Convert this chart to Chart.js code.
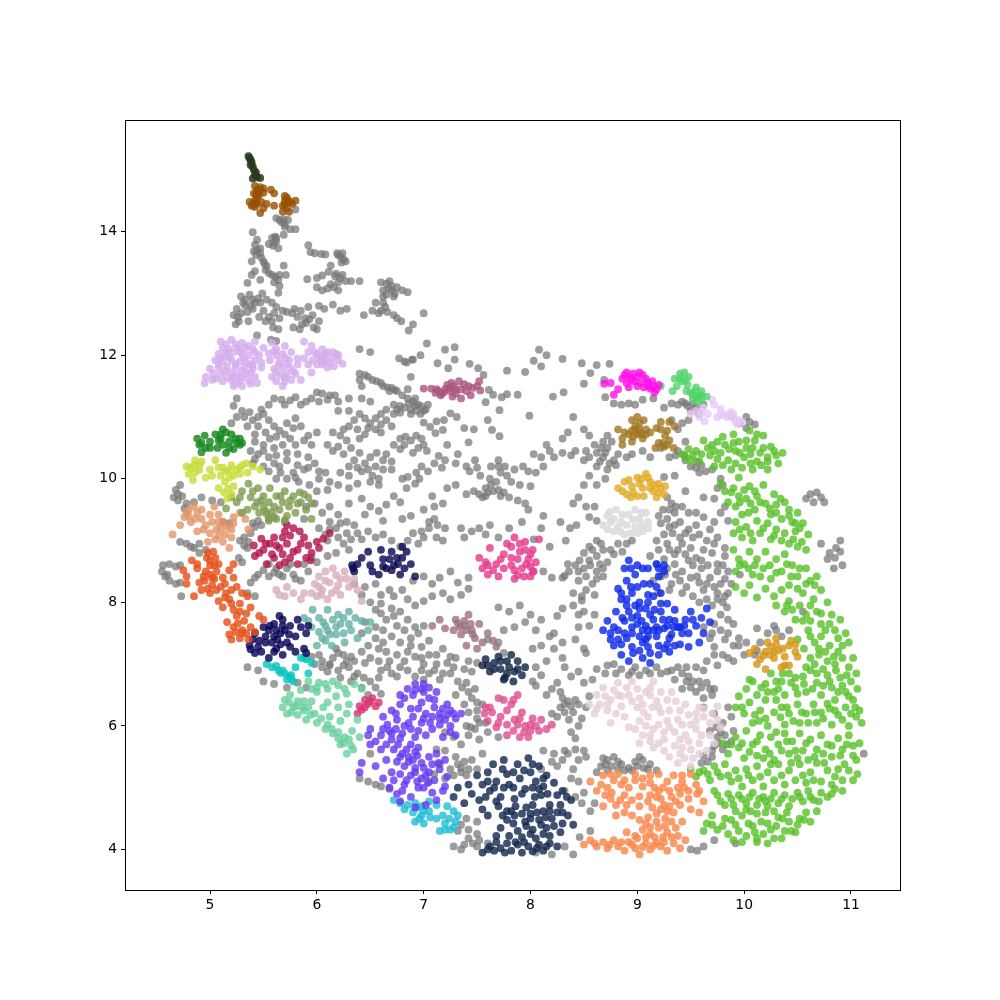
<!DOCTYPE html>
<html>
<head>
<meta charset="utf-8">
<title>Clusters</title>
<script src="https://cdn.jsdelivr.net/npm/chart.js@4"></script>
<style>
  html, body { margin: 0; padding: 0; background: #fff; }
  #wrap { width: 1000px; height: 1000px; }
</style>
</head>
<body>
<div id="wrap"><canvas id="scatter" width="1000" height="1000"></canvas></div>
<script>
// values, flat x,y lists per cluster
const xTicks = [5, 6, 7, 8, 9, 10, 11];
const yTicks = [4, 6, 8, 10, 12, 14];

const unassigned = [
// spire
5.80,14.36,5.65,14.19,5.69,14.2,5.73,14.19,5.67,14.15,5.70,14.08,5.80,14.04,5.75,14.04,5.40,13.99,5.69,13.95,5.61,13.92,5.58,13.9,5.44,13.87,5.62,13.84,5.59,13.77,5.64,13.73,5.42,13.79,5.47,13.73,5.41,13.68,5.44,13.7,5.47,13.65,5.39,13.52,5.50,13.52,5.53,13.44,5.51,13.48,5.69,13.45,5.42,13.36,5.39,13.3,5.55,13.33,5.61,13.27,5.58,13.3,5.71,13.3,5.35,13.17,5.47,13.22,5.64,13.22,5.65,13.12,5.64,13.01,5.6,13.18,
5.29,12.95,5.33,12.9,5.37,12.98,5.49,13.0,5.47,12.85,5.42,12.85,5.38,12.8,5.33,12.8,5.25,12.75,5.22,12.65,5.29,12.68,5.35,12.7,5.27,12.55,5.36,12.55,5.53,12.9,5.58,12.85,5.62,12.78,5.6,12.68,5.55,12.62,5.65,12.6,5.59,12.45,5.64,12.42,5.44,12.32,5.57,12.25,5.62,12.23,5.72,12.7,5.77,12.68,5.79,12.75,5.85,12.72,5.92,12.78,5.89,12.6,5.93,12.58,5.9,12.52,5.97,12.45,6.0,12.42,5.78,12.45,5.84,12.42,6.07,12.75,6.02,12.8,6.15,12.82,6.28,12.75,6.22,12.72,6.44,12.65,
5.4,12.9,5.45,12.92,5.31,12.85,5.26,12.62,5.24,12.5,5.4,12.75,5.5,12.72,5.46,12.62,5.52,12.55,5.58,12.55,5.68,12.72,5.82,12.62,5.96,12.65,6.02,12.55,5.86,12.5,5.52,13.38,5.48,13.58,5.43,13.62,5.62,13.9,5.55,13.8,5.6,13.82,5.65,13.3,5.7,14.12,5.62,14.22,
5.92,13.78,5.94,13.67,5.98,13.65,6.04,13.64,6.08,13.63,6.19,13.65,6.22,13.6,6.25,13.55,6.27,13.52,6.13,13.45,6.11,13.35,6.05,13.29,6.0,13.25,5.91,13.23,6.0,13.1,6.05,13.05,6.1,13.08,6.13,13.15,6.18,13.32,6.22,13.25,6.2,13.18,6.27,13.2,6.2,13.05,6.32,13.2,6.4,13.2,6.6,13.18,6.65,13.16,6.67,13.08,6.7,13.05,6.75,13.1,6.8,13.05,6.85,13.02,6.72,12.95,6.65,12.98,6.62,12.95,6.52,12.72,6.55,12.85,6.66,12.7,6.72,12.65,6.75,12.6,6.62,12.85,6.79,12.55,6.9,12.5,7.0,12.68,6.86,12.4,
6.2,13.62,6.24,13.65,6.23,13.5,6.17,13.28,6.24,13.3,6.16,13.1,6.68,13.2,6.7,13.12,6.62,13.05,6.73,13.0,6.6,12.72,6.64,12.78,6.58,12.68,
// under the lilac band
6.40,12.1,6.5,12.05,6.77,11.95,6.82,11.9,6.84,11.88,6.9,11.93,6.4,11.7,6.48,11.65,6.52,11.6,6.6,11.55,6.66,11.48,6.7,11.47,6.73,11.44,6.4,11.6,6.42,11.5,6.62,11.5,6.75,11.42,6.5,11.25,6.3,11.3,6.42,11.3,6.0,11.4,6.05,11.38,6.12,11.35,5.95,11.3,6.02,11.25,6.1,11.28,6.17,11.35,6.2,11.25,5.6,11.3,5.67,11.28,5.75,11.27,5.8,11.32,5.9,11.25,6.88,11.65,6.72,11.2,6.78,11.18,
6.45,11.68,6.56,11.58,6.68,11.42,6.92,11.3,6.86,11.22,6.92,11.18,6.88,11.05,6.97,11.05,7.04,11.2,7.0,11.1,6.75,11.12,5.85,11.2,5.7,11.2,5.55,11.2,5.48,11.12,
7.03,12.19,6.97,12.0,6.89,11.93,7.2,12.09,7.29,12.13,7.13,11.87,7.43,11.86,7.23,11.79,7.29,11.93,7.51,11.79,7.56,11.68,7.78,11.75,7.95,11.73,8.08,12.09,8.15,12.0,8.3,11.94,8.03,11.91,8.1,11.82,8.48,11.87,8.62,11.84,8.56,11.71,8.74,11.86,8.5,11.54,8.69,11.6,8.31,11.4,8.21,11.33,7.88,11.36,7.78,11.37,7.73,11.32,7.65,11.36,7.61,11.44,7.58,11.24,7.71,11.11,7.99,11.02,7.6,10.95,7.64,10.79,7.71,10.69,7.47,10.8,7.38,10.82,7.42,10.59,7.25,11.06,7.31,11.0,7.19,10.95,7.12,10.93,7.0,10.91,7.06,10.84,7.18,10.79,7.11,10.74,
6.85,11.45,6.8,11.35,6.85,11.3,6.9,11.25,6.95,11.2,6.98,11.17,6.82,11.15,6.88,11.12,6.93,11.1,7.02,11.12,6.78,11.07,6.72,11.05,6.65,11.12,6.6,11.05,6.55,10.98,6.65,10.95,6.6,10.88,6.7,10.85,6.78,10.65,6.83,10.68,6.88,10.62,6.93,10.7,6.98,10.65,7.0,10.55,6.95,10.5,6.9,10.42,6.82,10.55,6.78,10.48,7.03,10.45,7.14,10.37,7.1,10.25,7.17,10.18,7.04,10.12,6.98,10.2,6.93,10.1,6.85,10.03,6.96,10.0,6.92,9.92,6.8,10.0,6.84,9.85,7.08,9.72,
6.2,11.1,6.3,11.1,6.4,11.05,6.5,10.9,6.55,10.8,6.6,10.75,6.45,10.72,6.4,10.65,6.3,10.85,6.25,10.8,6.15,10.75,6.22,10.7,6.1,10.55,6.15,10.45,6.2,10.52,6.32,10.5,6.4,10.42,6.35,10.3,6.45,10.25,6.5,10.35,6.55,10.2,6.42,10.12,6.52,10.05,6.58,10.0,6.62,10.3,6.7,10.15,6.65,10.4,6.72,10.55,
6.35,10.95,6.45,10.98,6.38,10.8,6.48,10.82,6.28,10.62,6.25,10.4,6.3,10.2,6.38,10.18,6.48,10.15,6.56,10.42,6.62,10.15,6.7,10.28,6.58,9.9,6.5,9.95,
5.25,11.3,5.22,11.18,5.3,11.1,5.37,11.08,5.32,11.0,5.25,11.0,5.2,10.9,5.4,10.95,5.45,11.0,5.5,11.05,5.55,10.95,5.45,10.85,5.52,10.75,5.6,10.85,5.65,10.78,5.72,10.9,5.8,10.98,5.85,10.85,5.92,10.7,6.0,10.75,5.75,10.65,5.8,10.55,5.68,10.55,5.6,10.5,5.5,10.55,5.42,10.6,5.38,10.45,5.45,10.4,5.55,10.35,5.6,10.25,5.72,10.3,5.82,10.4,5.92,10.35,5.98,10.25,5.88,10.15,5.78,10.1,5.66,10.1,5.72,10.0,5.5,10.2,5.4,10.25,5.83,9.95,5.93,9.9,6.02,10.0,6.12,9.95,6.22,10.1,6.3,10.05,6.2,9.9,6.1,9.82,6.0,9.8,6.3,9.85,6.38,9.92,
5.35,10.85,5.42,10.72,5.56,10.65,5.62,10.68,5.7,10.72,5.78,10.82,5.88,10.62,5.95,10.55,5.72,10.42,5.62,10.38,5.5,10.45,5.42,10.32,5.65,10.2,5.82,10.22,5.92,10.18,6.02,10.12,5.55,10.12,5.62,10.0,5.8,10.02,6.08,10.1,
7.22,10.55,7.32,10.4,7.2,10.3,7.3,10.25,7.4,10.2,7.48,10.3,7.43,10.12,7.53,10.05,7.63,10.2,7.7,10.3,7.72,10.1,7.62,10.0,7.68,9.95,7.78,10.05,7.85,10.15,7.93,10.2,7.98,10.12,8.1,10.35,8.03,10.4,8.15,10.55,8.3,10.65,8.12,10.2,8.05,10.1,8.0,9.88,7.9,9.9,7.82,9.95,7.58,9.85,7.65,9.8,7.52,9.75,7.47,9.8,7.4,9.75,7.55,9.7,7.72,9.72,7.8,9.7,7.88,9.65,7.95,9.6,
7.6,9.78,7.63,9.9,7.7,9.82,7.75,9.78,7.76,10.2,7.7,10.2,7.5,10.18,7.58,9.72,
7.3,9.9,7.22,9.85,7.18,9.6,7.1,9.55,7.0,9.5,6.88,9.4,6.8,9.35,7.05,9.3,7.1,9.35,7.13,9.25,7.2,9.2,7.05,9.2,6.98,9.15,6.9,9.12,6.85,9.0,6.95,8.95,7.0,9.05,7.12,9.05,7.18,9.0,7.35,9.2,7.38,9.05,7.45,9.15,7.52,9.2,7.58,9.1,7.62,9.25,7.7,9.05,7.8,9.2,7.92,9.3,7.98,9.5,8.12,9.4,8.1,9.2,8.03,9.02,8.18,8.9,
8.4,11.0,8.35,10.75,8.5,10.8,8.55,10.7,8.6,10.55,8.52,10.45,8.42,10.45,8.38,10.38,8.3,10.42,8.22,10.35,8.18,10.45,8.5,10.3,8.55,10.35,8.62,10.42,8.68,10.35,8.72,10.5,8.76,10.6,8.78,10.3,8.82,10.4,8.62,10.2,8.72,10.15,8.8,10.22,8.7,10.0,8.62,9.9,8.55,10.05,8.5,9.9,8.45,9.7,8.4,9.6,8.52,9.55,8.6,9.55,8.62,9.32,8.55,9.38,8.43,9.25,8.37,9.2,8.28,9.3,8.33,9.0,
8.7,11.32,8.78,11.22,8.85,11.2,8.92,11.22,8.98,11.2,9.05,11.28,9.15,11.3,9.25,11.15,9.32,11.22,9.38,11.2,9.45,11.22,9.55,11.15,9.62,11.2,9.5,11.1,9.58,11.05,9.45,10.6,9.38,10.8,9.42,10.9,9.32,10.95,9.48,10.95,9.02,10.75,8.68,10.6,8.72,10.7,8.9,10.35,8.95,10.4,9.05,10.45,9.12,10.35,9.22,10.5,9.3,10.35,9.38,10.45,9.45,10.3,9.5,10.2,9.6,10.22,9.7,10.15,9.8,9.9,9.75,9.85,9.78,10.0,9.55,10.18,9.58,10.1,9.45,9.8,9.35,10.05,9.25,10.03,
8.66,10.5,8.7,10.42,8.74,10.25,8.65,10.28,9.42,11.25,9.47,11.18,9.52,11.22,9.55,11.1,9.36,10.38,9.44,10.38,9.56,10.28,9.64,10.12,
9.28,9.7,9.32,9.6,9.42,9.55,9.35,9.45,9.28,9.35,9.22,9.28,9.3,9.22,9.4,9.3,9.48,9.45,9.55,9.45,9.62,9.38,9.55,9.25,9.48,9.18,9.4,9.05,9.33,9.12,9.25,9.1,9.18,9.0,9.28,8.95,9.42,8.95,9.5,8.88,9.58,9.1,9.68,9.18,9.72,9.3,9.78,9.45,9.82,9.55,9.72,9.68,9.62,9.7,9.85,9.32,9.75,9.05,9.65,9.0,9.62,8.85,9.7,8.8,9.82,8.75,9.75,8.62,9.6,8.55,9.52,8.6,9.42,8.5,9.35,8.62,9.25,8.7,9.35,8.78,9.2,8.85,9.12,8.75,
9.24,9.5,9.3,9.5,9.36,9.55,9.2,9.4,9.35,9.25,9.45,9.12,9.52,9.05,9.38,8.85,9.45,8.78,9.55,8.72,9.48,8.68,9.6,8.68,9.66,8.6,9.8,8.6,9.82,8.88,9.72,8.95,9.3,8.85,9.18,8.62,9.28,8.55,
9.15,8.35,9.22,8.42,9.32,8.3,9.4,8.35,9.5,8.4,9.58,8.32,9.68,8.4,9.75,8.5,9.85,8.5,9.78,8.3,9.85,8.15,9.75,8.15,9.62,8.2,9.52,8.1,9.42,8.15,9.3,8.2,9.2,8.15,9.8,8.0,9.7,7.95,9.78,7.8,9.85,7.72,9.9,7.65,9.72,7.65,9.62,7.6,9.7,7.5,9.82,7.4,9.9,7.3,9.8,7.15,9.95,7.3,10.02,7.35,10.0,7.15,10.1,7.15,10.12,7.22,9.85,7.1,9.72,7.28,9.75,6.98,9.62,6.9,9.55,6.95,9.42,6.85,9.32,6.9,
9.26,8.45,9.36,8.45,9.46,8.25,9.56,8.42,9.65,8.3,9.72,8.25,9.82,8.38,9.88,8.3,9.82,8.1,9.75,8.05,9.84,7.92,9.65,8.05,9.58,8.0,9.78,7.55,9.85,7.5,9.95,7.42,9.68,7.42,9.72,7.15,9.9,7.05,9.65,7.05,9.46,6.95,9.38,6.95,
8.62,9.0,8.55,8.9,8.5,8.8,8.42,8.6,8.36,8.5,8.3,8.4,8.5,8.55,8.55,8.68,8.62,8.75,8.68,8.85,8.75,8.85,8.82,8.95,8.9,8.95,8.95,9.0,8.72,8.65,8.62,8.5,8.52,8.42,8.58,8.3,8.45,8.35,8.4,8.15,8.48,8.1,8.52,8.2,8.6,8.12,8.32,8.43,8.2,8.4,8.12,8.5,8.02,8.5,
8.46,8.68,8.56,8.6,8.65,8.62,8.68,8.55,8.58,8.85,8.66,8.95,8.78,8.78,8.86,8.82,8.45,8.5,8.62,8.38,8.68,8.42,8.35,8.62,
// left mass
4.56,8.6,4.62,8.62,4.68,8.58,4.72,8.6,4.55,8.5,4.58,8.42,4.62,8.35,4.68,8.3,4.72,8.32,4.6,8.45,4.73,8.1,4.78,8.95,4.85,8.88,4.72,8.98,4.7,9.65,4.74,9.72,4.68,9.82,4.72,9.9,4.78,9.6,4.85,9.62,4.92,9.7,5.02,9.65,5.1,9.62,5.12,9.3,5.18,9.28,5.27,8.72,5.3,8.65,5.38,8.32,5.42,8.4,5.35,8.15,5.42,8.1,5.35,8.88,5.32,9.05,5.38,9.12,5.42,9.22,5.45,9.32,5.55,9.35,5.7,9.3,5.75,8.62,5.62,8.55,5.55,8.62,5.5,8.52,5.45,8.45,5.55,8.42,5.6,8.48,5.72,8.55,5.68,8.42,5.85,8.35,5.88,8.62,5.95,8.72,6.0,8.65,6.1,8.75,6.18,8.8,6.1,9.0,6.08,9.1,6.2,9.05,6.25,8.95,6.3,8.85,6.02,9.2,6.12,9.3,6.2,9.42,6.28,9.3,6.18,9.2,6.35,9.25,6.38,9.12,6.48,9.15,6.55,9.05,6.62,9.1,6.7,9.0,6.78,8.9,
4.66,9.7,4.7,9.75,4.76,9.52,4.82,8.9,4.9,8.95,4.9,8.8,4.96,8.85,5.32,8.92,5.36,8.98,5.28,9.0,5.4,9.28,5.48,9.25,5.65,8.45,5.78,8.45,5.8,8.38,5.92,8.5,6.28,9.12,6.22,9.28,6.12,9.18,6.32,9.02,6.42,9.02,
5.9,9.55,5.98,9.6,6.05,9.45,6.12,9.55,5.88,9.35,6.3,9.6,6.42,9.68,6.5,9.55,6.58,9.48,6.65,9.58,6.62,9.32,6.45,9.42,6.78,9.62,6.72,9.72,
6.35,8.3,6.45,8.25,6.55,8.3,6.42,8.12,6.6,8.12,6.68,8.2,6.72,8.1,6.8,8.2,6.9,8.35,7.0,8.42,7.08,8.3,7.15,8.4,7.25,8.5,7.32,8.32,7.42,8.4,6.85,8.05,6.92,7.95,7.0,8.02,7.08,8.1,7.18,8.15,7.25,8.05,7.35,8.12,7.42,8.22,6.6,7.98,6.7,7.9,6.78,7.85,6.85,7.72,6.75,7.62,6.65,7.72,6.6,7.82,6.55,7.6,6.45,7.68,6.42,7.5,6.55,7.42,6.62,7.35,6.7,7.45,6.78,7.35,6.88,7.42,6.95,7.5,7.0,7.62,7.05,7.15,7.12,7.0,7.0,7.0,6.92,7.12,6.85,7.2,6.75,7.15,6.65,7.2,6.58,7.05,6.5,7.1,6.42,7.2,6.35,7.05,6.25,7.15,6.15,7.1,6.05,7.05,
6.5,8.0,6.55,7.88,6.72,7.78,6.82,7.55,6.92,7.6,6.62,7.55,6.58,7.25,6.48,7.3,6.88,7.3,6.98,7.28,7.05,7.38,7.18,7.25,7.25,7.12,7.12,7.15,6.98,7.1,6.82,7.05,6.68,7.05,6.45,7.02,6.32,7.12,6.18,7.25,6.2,7.18,6.28,7.05,6.12,6.98,6.02,7.15,
5.95,7.12,5.98,7.0,6.05,6.95,6.1,6.88,6.2,6.9,6.3,6.95,6.38,6.85,6.32,6.72,6.22,6.78,6.42,6.62,6.5,6.72,6.55,6.62,6.6,6.52,6.48,6.5,6.6,6.9,6.7,6.85,6.78,6.95,6.85,6.9,6.92,6.8,7.0,6.75,7.05,6.85,7.15,6.75,7.25,6.85,7.32,6.72,7.38,6.92,7.22,7.02,7.3,7.1,7.42,7.05,7.5,7.02,
6.12,7.0,6.25,6.98,6.35,6.8,6.44,6.78,6.58,6.78,6.66,6.95,6.75,6.8,6.98,6.9,7.1,6.9,7.18,6.85,7.28,6.95,7.45,6.88,
7.4,6.7,7.42,6.55,7.3,6.5,7.38,6.35,7.45,6.45,7.5,6.25,7.55,6.35,7.5,6.12,7.58,6.05,7.48,5.95,7.4,6.0,7.6,5.9,7.7,5.82,7.52,5.78,7.42,5.85,7.35,5.7,7.28,5.82,7.2,5.9,7.12,5.62,7.2,5.6,7.3,5.5,7.38,5.42,7.45,5.45,7.55,5.55,7.5,5.3,7.42,5.3,7.35,5.25,7.25,5.3,7.15,5.38,7.1,5.22,7.05,5.1,7.2,5.15,
7.48,6.6,7.36,6.62,7.5,6.38,7.42,6.22,7.52,6.05,7.44,5.98,7.35,5.32,7.32,5.38,7.28,5.2,7.4,5.2,
5.35,6.95,5.45,6.9,5.5,6.72,5.6,6.68,5.72,6.62,5.82,6.7,5.9,6.62,6.4,5.15,6.48,5.1,6.55,5.05,6.6,5.02,6.68,4.98,6.5,5.55,
7.35,4.4,7.42,4.32,7.5,4.25,7.52,4.15,7.6,4.1,7.4,4.5,7.5,4.45,7.28,4.05,7.35,4.0,7.42,4.18,7.46,4.1,7.5,4.05,7.38,4.08,7.32,4.3,
8.05,3.95,8.2,3.92,8.32,4.05,8.4,3.92,
// middle and right of the hollow
7.7,7.92,7.8,7.85,7.9,7.95,8.0,7.8,8.1,7.72,7.95,7.68,7.85,7.6,7.75,7.55,8.05,7.55,8.18,7.45,8.1,7.3,8.22,7.5,7.7,7.35,7.6,7.4,7.75,7.18,8.02,7.25,8.22,7.25,8.3,7.1,8.15,7.05,8.05,6.95,8.3,7.35,8.32,6.95,8.45,6.88,8.38,6.8,8.5,6.7,8.58,6.75,8.25,6.7,8.2,6.6,8.28,6.55,8.1,6.82,8.02,6.72,8.05,6.65,8.15,6.5,8.3,6.45,8.35,6.4,8.38,6.32,8.45,6.35,8.52,6.3,8.55,6.48,
8.45,7.8,8.4,7.95,8.48,8.03,8.5,7.85,8.6,7.8,8.55,7.62,8.45,7.6,8.5,7.25,8.52,7.18,8.42,7.4,8.25,7.78,8.3,7.9,
8.45,6.0,8.38,5.9,8.42,5.8,8.42,5.62,8.35,5.55,8.3,5.45,8.45,5.45,8.52,5.5,8.22,5.55,8.12,5.6,8.2,5.42,8.1,5.3,8.38,5.15,8.45,5.1,8.32,4.95,8.42,4.85,8.5,4.92,8.48,4.75,8.6,4.75,8.56,4.62,
8.28,6.3,8.32,6.22,8.4,6.22,8.25,6.15,8.36,6.1,8.48,6.12,8.32,6.35,8.42,6.42,8.2,6.2,8.5,5.6,8.32,5.6,8.25,5.35,8.4,5.3,
8.62,5.25,8.7,5.38,8.68,5.48,8.78,5.5,8.85,5.38,8.92,5.32,8.98,5.42,9.05,5.45,9.1,5.3,9.18,5.28,9.0,5.35,8.72,5.28,8.82,5.3,
8.66,5.35,8.72,5.45,8.76,5.35,8.82,5.42,8.88,5.28,8.95,5.28,9.02,5.5,9.12,5.38,9.06,5.32,
8.62,6.92,8.72,6.98,8.78,7.0,8.85,6.92,8.98,6.95,9.08,6.9,9.18,6.95,9.28,6.88,9.02,6.82,8.92,6.82,8.7,6.85,9.35,6.75,9.48,6.8,9.42,6.6,9.5,6.62,9.58,6.72,9.65,6.7,9.55,6.55,9.62,6.45,9.7,6.5,9.72,6.6,
8.8,6.85,8.95,6.88,9.12,6.85,9.22,6.85,9.46,6.72,9.52,6.72,9.6,6.62,9.68,6.6,
9.68,5.92,9.74,5.98,9.8,6.05,9.88,6.15,9.82,5.85,9.88,5.75,9.9,5.92,9.75,5.82,9.72,5.68,9.8,5.62,9.7,5.5,9.6,5.4,9.62,6.3,9.72,6.2,9.85,6.3,
9.76,5.72,9.84,5.7,9.78,5.9,9.7,5.6,9.62,5.52,9.66,5.42,
// right edge tufts
10.58,9.68,10.62,9.75,10.68,9.78,10.72,9.7,10.75,9.62,10.65,9.62,10.72,8.95,10.8,8.8,10.85,8.72,10.9,8.82,10.92,8.6,10.84,8.55,10.78,8.7,10.86,8.88,10.9,9.0,10.28,7.62,10.22,7.5,10.3,7.55,10.35,7.45,10.12,7.58,10.42,7.55,10.15,7.35,9.96,8.45,10.55,7.85,10.02,10.82,9.88,11.02,9.96,10.9,10.05,10.92,10.1,10.88,10.02,11.0,11.12,5.55,9.62,4.05,9.56,3.98,9.5,4.0,9.72,4.15,9.92,4.1,8.56,4.3,8.46,4.2
];

const darkOlive = [5.36,15.22,5.37,15.19,5.38,15.16,5.39,15.12,5.38,15.08,5.4,15.05,5.41,15.0,5.43,14.96,5.42,14.92,5.44,14.88,5.47,14.87,5.4,14.86];
const brown = [5.42,14.74,5.47,14.72,5.44,14.68,5.5,14.7,5.41,14.62,5.46,14.6,5.44,14.55,5.5,14.63,5.57,14.68,5.6,14.62,5.42,14.5,5.37,14.48,5.4,14.44,5.44,14.45,5.48,14.48,5.42,14.4,5.47,14.3,5.5,14.38,5.53,14.45,5.6,14.42,5.68,14.42,5.7,14.58,5.73,14.5,5.7,14.44,5.77,14.45,5.8,14.5,5.72,14.38,5.68,14.32,5.74,14.32,5.45,14.66,5.43,14.6,5.42,14.46,5.39,14.42,5.72,14.55,5.75,14.48,5.7,14.5];
const lilac = [
5.1,12.22,5.2,12.25,5.3,12.2,5.42,12.22,5.36,12.15,5.12,12.12,5.18,12.1,5.26,12.12,5.4,12.1,5.5,12.12,5.08,12.02,5.14,12.0,5.22,12.05,5.3,12.02,5.36,12.0,5.46,12.0,5.05,11.92,5.12,11.9,5.2,11.92,5.28,11.9,5.34,11.88,5.42,11.92,5.0,11.78,5.08,11.8,5.16,11.82,5.24,11.8,5.32,11.8,5.4,11.78,5.48,11.8,4.96,11.65,5.03,11.7,5.1,11.7,5.2,11.72,5.26,11.68,5.34,11.7,5.42,11.65,4.95,11.55,5.02,11.6,5.12,11.58,5.2,11.6,5.28,11.58,5.36,11.6,5.44,11.55,5.22,11.5,5.3,11.5,
5.58,12.2,5.62,12.1,5.7,12.15,5.55,12.03,5.62,12.0,5.68,12.02,5.76,12.05,5.56,11.92,5.65,11.9,5.74,11.92,5.82,11.95,5.6,11.78,5.68,11.8,5.75,11.8,5.82,11.85,5.58,11.65,5.66,11.68,5.72,11.7,5.8,11.7,5.62,11.58,5.7,11.58,5.76,11.6,5.85,11.6,5.68,11.5,
5.88,12.22,5.95,12.15,5.92,12.05,5.98,12.05,6.05,12.1,5.88,11.95,5.96,11.92,6.04,11.98,6.1,12.05,5.92,11.85,6.0,11.85,6.08,11.88,5.95,11.72,
6.0,12.02,6.08,12.02,6.15,12.05,6.14,11.95,6.2,12.0,6.05,11.92,6.12,11.88,6.2,11.92,6.24,11.86,6.05,11.85,6.1,11.8,6.16,11.82,6.02,11.95,6.18,12.02,6.07,11.98,
5.15,12.18,5.24,12.18,5.33,12.12,5.16,12.05,5.28,12.06,5.42,12.05,5.1,11.96,5.18,11.97,5.32,11.95,5.08,11.86,5.24,11.86,5.38,11.85,5.14,11.75,5.22,11.65,5.3,11.75,5.38,11.72,5.06,11.62,5.16,11.64,5.3,11.64,5.24,11.54,5.38,11.54,5.6,12.06,5.7,11.96,5.64,11.84,5.72,11.86,5.62,11.72,5.7,11.64,5.78,11.74,5.4,11.84,5.48,11.88
];
const mauve = [7.0,11.46,7.07,11.46,7.11,11.39,7.17,11.38,7.14,11.42,7.2,11.45,7.25,11.42,7.3,11.45,7.3,11.38,7.26,11.55,7.33,11.58,7.38,11.53,7.42,11.5,7.46,11.47,7.44,11.35,7.35,11.3,7.5,11.5,7.52,11.58,7.53,11.43,7.22,11.52,7.16,11.35,7.27,11.33,7.19,11.4,7.24,11.47,7.35,11.45,7.4,11.42,7.28,11.5,7.12,11.45];
const magenta = [8.69,11.54,8.75,11.55,8.78,11.36,8.82,11.45,8.86,11.62,8.9,11.72,8.93,11.65,8.9,11.55,8.96,11.7,9.0,11.65,8.97,11.58,9.03,11.55,9.05,11.68,9.08,11.62,9.1,11.5,9.14,11.58,9.12,11.46,9.18,11.45,9.2,11.52,9.16,11.4,8.88,11.68,8.94,11.6,8.92,11.48,9.0,11.5,9.06,11.48,9.1,11.56,9.15,11.5,9.02,11.72];
const lightGreen = [9.22,11.5,9.33,11.42,9.35,11.62,9.4,11.7,9.44,11.72,9.48,11.65,9.42,11.58,9.37,11.5,9.47,11.52,9.5,11.4,9.55,11.48,9.58,11.35,9.52,11.3,9.6,11.28,9.65,11.33,9.56,11.25,9.46,11.42,9.6,11.42,9.4,11.62,9.45,11.6,9.52,11.36,9.56,11.32,9.6,11.35,9.54,11.42];
const paleLilac = [9.5,11.05,9.55,11.1,9.62,11.15,9.58,11.0,9.63,10.93,9.66,11.05,9.72,11.2,9.78,11.13,9.8,11.03,9.85,11.05,9.9,10.98,9.95,10.95,9.94,10.88,9.88,11.08,9.7,11.28,9.75,11.0,9.98,10.92,9.6,11.08,9.84,11.0,9.9,11.04,9.92,10.92,9.78,11.06];
const tan = [8.82,10.8,8.86,10.65,8.88,10.75,8.95,10.78,8.98,10.85,9.0,10.72,9.06,10.95,9.02,10.9,9.08,10.8,9.12,10.75,9.18,10.82,8.95,10.95,9.0,11.0,9.05,10.65,8.86,10.55,8.95,10.6,9.22,10.92,9.3,10.92,9.22,10.8,9.26,10.7,9.25,10.52,9.2,10.58,9.3,10.62,9.34,10.5,9.17,10.5,9.35,10.85,9.28,10.78,8.92,10.72,8.96,10.68,9.02,10.8,9.04,10.72,9.08,10.72,8.98,10.8,9.24,10.58,9.28,10.55];
const forest = [4.9,10.55,4.88,10.65,4.95,10.7,5.0,10.6,5.0,10.5,5.05,10.72,5.1,10.65,5.12,10.8,5.15,10.75,5.12,10.55,5.18,10.6,5.2,10.72,5.22,10.48,5.28,10.55,5.28,10.65,5.25,10.58,5.15,10.42,5.07,10.5,4.92,10.43,4.92,10.58,4.96,10.5,5.08,10.62,5.18,10.5,5.24,10.65,5.3,10.58,5.1,10.72];
const lime = [4.78,10.2,4.8,10.08,4.84,9.98,4.86,10.3,4.9,10.14,4.92,10.28,4.96,10.02,5.02,10.05,5.0,10.15,5.05,10.3,5.08,10.18,5.1,10.05,5.14,9.95,5.15,10.12,5.2,10.22,5.25,10.15,5.3,10.22,5.34,10.25,5.22,10.05,5.28,10.08,5.35,10.1,5.4,10.2,5.13,9.78,5.16,9.68,5.2,9.75,5.22,9.88,5.08,9.85,5.47,10.15,4.82,10.18,4.86,10.1,4.9,10.22,5.12,10.18,5.18,10.14,5.18,10.02,5.28,10.18,5.17,9.84,4.85,10.22];
const sage = [5.2,9.7,5.25,9.62,5.15,9.52,5.3,9.45,5.3,9.8,5.36,9.92,5.38,9.7,5.42,9.55,5.45,9.85,5.5,9.72,5.5,9.55,5.55,9.62,5.53,9.43,5.55,9.32,5.6,9.55,5.6,9.38,5.62,9.72,5.68,9.62,5.7,9.8,5.74,9.55,5.78,9.72,5.8,9.45,5.85,9.62,5.88,9.75,5.7,9.33,5.9,9.5,5.95,9.35,5.95,9.6,5.72,9.4,5.44,9.62,5.56,9.85,5.35,9.5,5.4,9.8,5.48,9.65,5.52,9.48,5.58,9.46,5.65,9.5,5.66,9.72,5.75,9.65,5.82,9.6,5.92,9.7,5.28,9.7,5.46,9.45,5.62,9.35,5.84,9.78];
const peach = [4.65,9.1,4.72,9.25,4.76,9.38,4.8,9.5,4.82,9.3,4.88,9.45,4.88,9.15,4.92,9.35,4.96,9.25,5.0,9.42,5.0,9.12,5.04,9.55,5.08,9.42,5.08,9.3,5.1,9.2,5.14,9.1,5.12,8.98,5.2,9.18,5.22,9.28,5.28,9.45,5.33,9.35,5.36,9.18,4.98,8.98,5.05,9.02,4.85,9.55,5.18,8.88,5.22,9.38,4.8,9.4,4.86,9.35,4.92,9.5,4.94,9.18,5.02,9.3,5.06,9.18,5.12,9.3,5.16,9.22,5.08,9.08,5.2,9.05,4.78,9.45];
const crimson = [5.41,8.92,5.42,8.75,5.48,9.03,5.5,8.85,5.56,8.95,5.53,8.62,5.6,8.72,5.65,8.6,5.6,9.05,5.65,8.88,5.7,9.15,5.72,8.95,5.75,8.72,5.78,9.2,5.82,8.85,5.82,8.62,5.88,9.05,5.92,8.92,5.9,8.72,5.95,8.8,6.0,8.98,6.06,9.03,6.12,9.12,5.68,9.05,5.58,8.78,5.75,9.08,5.52,8.95,5.62,8.92,5.68,8.78,5.7,8.65,5.78,8.82,5.84,9.15,5.85,8.95,5.94,8.68,6.02,8.88,5.46,8.8,5.72,9.25];
const orangeRed = [
4.75,8.52,4.78,8.3,4.78,8.42,4.83,8.68,4.88,8.55,4.9,8.32,4.97,8.72,5.0,8.6,5.03,8.82,5.0,8.45,4.95,8.35,5.05,8.72,5.08,8.62,5.06,8.5,5.12,8.4,5.02,8.28,5.1,8.25,5.0,8.15,4.92,8.2,5.15,8.15,5.22,8.62,5.22,8.4,5.25,8.25,5.18,8.05,5.08,8.02,5.12,7.92,5.22,7.88,5.28,7.98,5.35,8.1,5.38,7.92,5.25,7.78,5.32,7.7,5.38,7.6,5.3,7.55,5.22,7.6,5.18,7.48,5.28,7.42,5.36,7.4,5.42,7.52,5.46,7.78,5.5,7.72,5.16,7.68,5.02,8.4,4.85,8.1,
4.98,8.8,5.0,8.68,5.04,8.6,4.96,8.5,4.94,8.42,5.04,8.38,4.98,8.22,5.06,8.2,5.14,8.08,5.14,8.3,5.2,8.2,5.2,7.98,5.28,7.85,5.26,7.66,5.34,7.82,5.3,7.5,5.24,7.52,5.34,7.5,5.2,7.4,4.88,8.62,5.18,8.52,5.3,8.15
];
const navy = [5.37,7.3,5.4,7.4,5.45,7.28,5.48,7.2,5.52,7.35,5.55,7.55,5.5,7.6,5.6,7.45,5.62,7.25,5.6,7.65,5.68,7.72,5.7,7.55,5.72,7.35,5.75,7.62,5.8,7.45,5.85,7.6,5.88,7.25,5.9,7.5,5.68,7.15,5.55,7.1,5.8,7.2,5.63,7.4,5.52,7.45,5.42,7.5,5.75,7.28,5.65,7.78,5.9,7.18,5.58,7.35,5.66,7.5,5.68,7.62,5.62,7.55,5.74,7.48,5.56,7.62,5.66,7.32,5.38,7.24,5.46,7.38,5.6,7.2,5.82,7.72,5.92,7.62,5.42,7.18];
const dustyPink = [5.62,8.2,5.7,8.1,5.72,8.25,5.78,8.15,5.85,8.05,5.95,8.15,5.98,8.3,6.02,8.42,6.05,8.2,6.1,8.05,6.12,8.32,6.15,8.55,6.18,8.2,6.22,8.38,6.22,8.12,6.26,8.5,6.3,8.25,6.35,8.38,6.38,8.2,6.42,8.02,6.0,8.1,6.08,8.5,5.65,8.12,5.88,8.15,6.02,8.25,6.08,8.35,6.14,8.15,6.2,8.28,6.28,8.38,6.04,8.12,6.18,8.44,6.34,8.3];
const teal = [5.88,7.75,5.95,7.6,5.96,7.88,6.02,7.75,6.05,7.42,6.08,7.62,6.1,7.88,6.15,7.72,6.18,7.48,6.22,7.65,6.26,7.35,6.3,7.85,6.32,7.55,6.38,7.42,6.42,7.7,6.48,7.55,6.3,7.65,6.14,7.3,6.02,7.52,6.2,7.8,6.5,7.68,6.1,7.55,6.06,7.68,6.12,7.48,6.18,7.6,6.25,7.5,6.08,7.38,6.25,7.75,6.36,7.75,5.92,7.7,6.0,7.3];
const cyan = [5.53,7.0,5.58,6.95,5.64,6.9,5.7,6.85,5.76,6.82,5.78,6.72,5.8,6.95,5.72,6.75,5.85,7.1,5.9,7.08,5.95,7.02,5.62,6.97,5.92,6.85,5.68,6.9,5.74,6.8,5.66,6.86,5.76,6.76,5.88,7.1];
const seafoam = [
5.68,6.3,5.72,6.2,5.7,6.42,5.75,6.5,5.78,6.3,5.82,6.18,5.82,6.4,5.85,6.58,5.88,6.25,5.9,6.1,5.92,6.72,5.95,6.4,5.98,6.2,6.0,6.05,6.0,6.55,6.02,6.7,6.06,6.3,6.08,5.95,6.1,6.6,6.12,6.15,6.15,5.88,6.15,6.72,6.18,6.48,6.2,5.8,6.22,6.08,6.25,5.72,6.26,6.6,6.3,6.35,6.28,5.55,6.33,5.92,6.35,6.68,6.38,6.1,6.4,5.82,6.42,6.6,6.2,6.3,5.95,6.6,6.1,6.38,6.32,5.68,
5.74,6.38,5.8,6.32,5.86,6.3,5.92,6.3,5.94,6.18,6.04,6.12,6.1,6.02,6.14,5.95,6.2,5.9,6.26,5.82,6.22,5.7,6.3,5.78,6.0,6.62,6.08,6.68,6.2,6.66,6.28,6.52,5.76,6.22,5.88,6.4,6.34,5.62,6.28,6.2
];
const pinkRed = [6.38,6.2,6.4,6.32,6.45,6.3,6.45,6.42,6.52,6.45,6.55,6.32,6.58,6.38,6.42,6.26,6.48,6.36,6.5,6.4];
const violet = [
6.4,5.25,6.42,5.4,6.5,5.7,6.48,5.85,6.5,5.95,6.55,5.75,6.6,5.62,6.65,5.45,6.55,5.35,6.62,5.15,6.7,5.25,6.68,5.0,6.75,4.9,6.82,5.05,6.88,4.85,6.92,4.68,6.78,4.78,6.95,5.0,7.02,4.72,7.08,4.92,7.12,4.8,7.18,4.95,
6.62,5.95,6.7,5.88,6.78,5.8,6.65,5.7,6.72,5.62,6.8,5.55,6.88,5.7,6.95,5.65,6.75,5.42,6.82,5.35,6.9,5.45,6.98,5.4,7.05,5.5,7.12,5.55,7.2,5.45,7.15,5.3,7.05,5.25,6.98,5.15,6.88,5.2,6.78,5.22,7.1,5.12,7.22,5.18,7.2,5.02,
6.62,6.15,6.7,6.25,6.78,6.35,6.75,6.1,6.82,6.0,6.9,6.15,6.98,6.05,6.88,5.95,7.02,5.85,6.92,5.82,7.08,5.95,7.18,5.82,7.25,5.9,7.15,6.02,7.02,6.2,6.82,6.45,6.9,6.5,6.98,6.38,7.08,6.15,7.1,6.3,7.1,6.42,7.15,6.2,7.25,6.25,7.3,6.12,7.2,6.1,7.35,6.2,7.0,6.55,6.85,6.6,6.92,6.68,7.0,6.68,7.05,6.62,7.12,6.55,6.78,6.5,7.25,6.0,7.3,5.85,
6.68,5.92,6.74,5.95,6.8,5.88,6.7,5.78,6.76,5.7,6.84,5.62,6.92,5.58,6.78,5.5,6.86,5.5,6.94,5.52,6.86,5.42,6.92,5.32,7.0,5.32,7.08,5.38,7.14,5.4,7.02,5.2,6.94,5.1,7.04,5.08,6.92,5.25,6.84,5.12,6.72,5.12,6.8,4.95,7.0,5.0,6.95,6.28,6.88,6.28,6.86,6.05,6.95,5.92,7.0,6.12,7.06,6.05,7.15,6.12,7.22,6.18,7.28,6.2,7.18,6.28,7.22,6.35,6.92,6.58,6.98,6.6,7.05,6.45,6.74,6.2,6.66,6.02,6.6,5.85
];
const cyan2 = [6.72,4.8,6.78,4.75,6.85,4.72,6.92,4.75,6.98,4.7,7.05,4.78,7.12,4.72,7.22,4.7,7.28,4.62,6.9,4.6,6.98,4.55,7.05,4.62,7.12,4.5,7.0,4.42,6.92,4.45,7.15,4.3,7.2,4.42,7.25,4.32,7.3,4.45,7.32,4.55,7.18,4.55,6.82,4.65,6.94,4.68,7.0,4.62,6.96,4.5,7.06,4.52,7.2,4.32,7.28,4.36,7.24,4.5];
const navy2 = [
7.28,4.85,7.32,5.0,7.38,4.75,7.42,5.05,7.45,4.9,7.5,5.2,7.55,5.05,7.52,4.8,7.55,4.65,7.62,4.95,7.6,5.25,7.65,5.38,7.68,5.1,7.72,4.85,7.7,4.7,7.75,5.45,7.78,5.22,7.8,5.05,7.82,4.62,7.85,4.82,7.88,5.38,7.9,5.15,7.95,4.98,7.98,5.48,8.0,5.25,8.02,4.72,8.05,5.1,8.08,5.35,8.1,4.88,8.12,5.02,8.15,5.2,8.18,4.72,8.22,5.08,8.25,4.88,8.3,4.95,8.28,4.72,8.38,4.8,
7.6,4.55,7.72,4.35,7.78,4.48,7.85,4.55,7.88,4.3,7.95,4.45,8.0,4.58,8.02,4.32,8.08,4.48,8.12,4.62,8.15,4.35,8.2,4.5,8.25,4.6,8.3,4.42,8.35,4.55,8.4,4.4,8.28,4.28,8.18,4.22,8.05,4.18,7.92,4.2,
7.62,4.05,7.68,4.12,7.72,4.02,7.78,4.1,7.82,3.98,7.88,4.08,7.92,3.95,7.98,4.05,8.02,3.97,8.08,4.08,8.12,3.98,8.18,4.1,8.25,4.05,7.8,4.22,7.68,4.22,7.55,3.95,
7.6,5.1,7.66,5.0,7.58,4.85,7.68,4.78,7.75,5.0,7.74,5.3,7.84,5.0,7.84,5.25,7.86,4.7,7.92,4.9,7.94,5.28,7.96,4.68,8.02,5.0,8.02,5.38,8.04,4.85,8.08,4.98,8.12,5.15,8.16,4.9,7.92,4.58,7.96,4.38,8.0,4.5,8.06,4.6,8.1,4.4,8.14,4.52,8.18,4.62,7.84,4.42,7.78,4.62,7.74,4.55,8.22,4.38,8.12,4.25,8.0,4.25,7.86,4.12,7.94,4.12,8.06,4.02,7.76,3.95,7.66,3.98,7.6,4.0,8.15,4.05,8.3,4.6,8.34,4.85
];
const orange = [
8.5,4.08,8.56,4.15,8.62,4.05,8.68,4.12,8.72,4.02,8.78,4.15,8.82,4.05,8.88,3.98,8.92,4.12,8.98,4.02,9.02,3.92,9.08,4.1,9.12,4.0,9.18,4.12,9.22,4.05,9.28,3.98,9.34,4.1,9.4,4.02,9.45,4.15,9.38,4.22,
8.9,4.28,8.98,4.22,9.05,4.32,9.12,4.25,9.2,4.35,9.28,4.28,9.36,4.35,9.42,4.45,8.8,4.55,8.88,4.6,8.95,4.55,9.02,4.48,9.1,4.52,9.18,4.58,9.26,4.5,9.34,4.6,9.4,4.72,9.5,4.65,9.58,4.6,
8.68,4.7,8.75,4.82,8.8,4.72,8.88,4.88,8.95,4.8,9.02,4.7,9.1,4.78,9.18,4.85,9.25,4.72,9.32,4.85,9.4,4.9,9.48,4.82,9.56,4.9,9.62,4.78,8.62,4.95,8.66,5.05,8.72,5.0,8.78,5.12,8.85,5.05,8.92,5.0,8.98,5.12,9.05,5.02,9.12,5.08,9.2,4.95,9.28,5.1,9.34,5.2,9.42,5.1,9.5,5.22,9.55,5.05,9.44,5.0,8.68,5.2,8.82,5.22,8.98,5.22,9.12,5.2,9.2,5.22,8.56,5.1,
8.6,4.1,8.74,4.08,8.85,4.12,8.95,4.08,9.05,4.04,9.15,4.06,9.25,4.12,9.32,4.2,9.0,4.18,9.08,4.2,9.16,4.2,9.24,4.2,9.12,4.36,9.26,4.38,9.32,4.45,9.18,4.45,9.08,4.42,9.28,4.62,9.22,4.65,9.14,4.68,9.3,4.7,9.22,4.82,9.12,4.88,9.02,4.86,8.9,4.72,8.84,4.8,9.36,4.78,9.38,5.0,9.3,4.95,9.24,5.0,9.16,5.0,8.88,5.12,8.76,4.92,8.7,4.88,9.05,5.15,8.75,5.22,9.42,5.2,9.58,4.95,9.48,4.95
];
const palePink = [
8.55,6.35,8.6,6.2,8.62,6.5,8.68,6.62,8.72,6.25,8.75,6.05,8.75,6.42,8.82,6.7,8.85,6.32,8.88,6.15,8.92,6.5,8.95,6.72,8.98,5.95,9.0,6.3,9.02,5.72,9.08,6.55,9.1,6.15,9.12,5.85,9.15,6.72,9.18,6.4,9.2,6.02,9.25,5.6,9.25,5.78,9.3,6.25,9.32,6.55,9.35,5.9,9.38,6.1,9.4,5.55,9.45,6.35,9.48,5.75,9.5,6.02,9.55,6.2,9.58,5.55,9.6,5.85,9.62,6.28,9.68,6.05,9.7,6.2,9.72,5.72,9.75,6.32,9.38,5.4,9.5,5.35,8.82,6.5,9.0,6.6,9.22,6.22,9.42,5.65,9.22,6.55,9.05,6.35,8.92,5.98,9.08,6.0,9.15,5.65,9.28,6.08,9.55,5.95,9.75,6.1,9.65,5.6,9.52,5.48,9.35,5.68,9.12,5.75,
8.65,6.35,8.7,6.48,8.78,6.58,8.8,6.2,8.85,6.48,8.9,6.62,8.95,6.4,9.02,6.45,9.06,6.22,9.14,6.3,9.12,6.5,9.2,6.3,9.28,6.42,9.3,5.98,9.25,5.9,9.15,5.95,9.05,5.85,9.02,6.08,9.4,6.25,9.42,6.02,9.45,5.85,9.4,5.78,9.48,6.18,9.55,6.08,9.62,6.15,9.58,5.72,9.5,5.62,9.44,5.48,9.3,5.5,9.2,5.72,9.36,6.4,9.58,6.3,9.68,5.85,9.78,5.98,9.12,6.62,8.72,6.35,8.62,6.28
];
const blue = [
8.68,7.55,8.72,7.7,8.75,7.4,8.78,7.3,8.8,7.85,8.82,7.55,8.85,7.15,8.88,7.7,8.9,7.42,8.92,7.05,8.95,7.6,8.95,7.28,9.0,7.78,9.02,7.45,9.05,7.1,9.08,7.62,9.1,7.28,9.12,7.02,9.15,7.72,9.18,7.45,9.2,7.15,9.22,7.85,9.25,7.58,9.28,7.32,9.3,7.72,9.32,7.48,9.35,7.88,9.38,7.6,9.4,7.32,9.45,7.72,9.48,7.5,9.5,7.85,9.55,7.62,9.58,7.35,9.6,7.75,9.65,7.9,9.68,7.68,9.62,7.5,9.3,7.2,
8.82,8.22,8.85,8.05,8.88,8.55,8.9,8.35,8.92,8.68,8.95,8.15,8.98,8.45,9.0,8.25,9.02,8.0,9.05,8.55,9.12,8.3,9.15,8.1,9.18,8.62,9.2,8.42,9.25,8.6,9.22,7.98,9.08,7.9,8.9,7.95,8.95,7.75,9.1,8.55,9.15,7.55,9.05,7.35,9.25,7.25,9.4,7.6,9.2,7.55,9.35,7.7,8.82,7.4,8.95,7.5,9.1,7.45,
8.85,8.15,8.9,8.05,8.94,8.25,8.98,7.95,8.94,8.55,9.0,8.6,9.06,8.3,9.1,8.12,9.1,8.0,9.16,7.88,9.22,8.15,9.28,7.98,9.18,8.25,9.25,8.5,9.2,8.55,8.86,7.75,8.92,7.85,9.04,7.7,9.02,7.9,9.12,7.8,9.1,7.55,9.18,7.6,9.05,7.55,9.0,7.65,8.88,7.5,8.85,7.32,8.96,7.18,9.02,7.22,9.12,7.18,9.2,7.3,9.3,7.42,9.35,7.3,9.42,7.5,9.28,7.62,9.44,7.62,9.52,7.72,9.34,7.6,9.24,7.72,9.08,7.4,8.78,7.6,8.75,7.5,9.48,7.28
];
const hotPink = [7.52,8.72,7.55,8.55,7.6,8.45,7.62,8.88,7.68,8.62,7.7,8.42,7.75,8.78,7.78,8.95,7.82,8.6,7.85,9.05,7.85,8.38,7.9,8.82,7.92,8.55,7.95,8.98,7.98,8.7,8.0,8.42,8.02,8.85,8.05,8.65,8.03,8.5,7.75,8.55,7.88,8.7,7.6,8.6,7.95,8.85,8.08,9.02,7.58,8.65,7.65,8.52,7.72,8.7,7.82,8.72,7.85,8.52,7.82,8.9,7.9,8.95,7.88,8.44,7.96,8.62,7.94,8.42,8.0,8.58,8.0,8.78];
const rose = [7.57,6.2,7.6,6.08,7.62,6.3,7.68,5.98,7.72,6.15,7.75,6.42,7.78,5.85,7.82,6.35,7.85,6.1,7.88,6.5,7.9,5.82,7.92,6.22,7.95,6.0,8.0,5.92,8.02,6.12,8.05,6.0,8.1,6.1,8.15,5.95,8.2,6.02,7.98,5.82,7.7,6.45,7.64,6.22,7.7,6.05,7.78,6.25,7.78,6.02,7.84,5.92,7.88,6.02,7.94,5.9,7.84,6.42,7.9,6.12,8.0,6.02,8.08,5.92,7.58,6.3];
const navy3 = [7.55,6.98,7.58,7.08,7.62,6.88,7.66,7.02,7.7,7.12,7.72,6.92,7.76,6.78,7.78,7.05,7.82,7.15,7.85,6.88,7.88,7.05,7.92,6.82,7.95,6.95,7.75,6.75,7.84,6.72,7.6,6.98,7.66,6.92,7.72,7.05,7.8,6.95,7.88,6.92,7.78,6.85];
const mauveGrey = [7.08,7.62,7.15,7.72,7.2,7.58,7.28,7.55,7.3,7.72,7.35,7.48,7.38,7.62,7.42,7.8,7.45,7.55,7.48,7.42,7.52,7.65,7.55,7.35,7.6,7.5,7.65,7.38,7.68,7.28,7.4,7.3,7.5,7.25,7.34,7.6,7.4,7.55,7.44,7.65,7.38,7.7,7.46,7.48,7.32,7.66];
const indigo = [6.33,8.6,6.35,8.5,6.42,8.72,6.48,8.82,6.5,8.6,6.58,8.45,6.62,8.7,6.65,8.55,6.7,8.82,6.72,8.6,6.75,8.72,6.8,8.9,6.82,8.55,6.78,8.45,6.88,8.62,6.92,8.42,6.52,8.5,6.6,8.85,6.34,8.55,6.38,8.62,6.68,8.7,6.7,8.52,6.76,8.62,6.8,8.72,6.62,8.58,6.84,8.82];
const gold = [8.82,9.85,8.88,9.95,8.9,9.75,8.95,9.88,9.0,9.72,9.0,10.02,9.05,9.85,9.08,10.08,9.12,9.95,9.15,9.8,9.18,9.7,9.2,9.92,9.25,9.75,8.86,9.8,8.92,9.98,8.96,9.78,9.02,9.92,9.06,9.72,9.1,10.02,9.12,9.85,9.16,9.9,9.2,9.78,9.04,10.0,9.22,9.85,8.94,9.7,9.26,9.88];
const lightGrey = [8.68,9.25,8.72,9.4,8.78,9.15,8.8,9.5,8.85,9.3,8.88,9.1,8.92,9.42,8.98,9.5,8.98,9.22,9.02,9.35,9.08,9.45,9.05,9.15,9.1,9.3,8.75,9.3,8.72,9.18,8.78,9.35,8.82,9.22,8.86,9.42,8.9,9.25,8.94,9.12,8.96,9.34,9.0,9.12,9.04,9.25,9.04,9.45,8.84,9.15,8.74,9.46,9.1,9.2];
const amber = [10.05,7.18,10.1,7.25,10.15,7.08,10.2,7.2,10.22,7.35,10.28,7.1,10.25,7.28,10.32,7.22,10.3,7.42,10.38,7.12,10.42,7.3,10.48,7.2,10.35,6.95,10.42,6.98,10.5,7.12,10.2,6.92,10.12,7.0,10.18,7.14,10.24,7.15,10.3,7.32,10.36,7.25,10.28,7.2,10.44,7.38,10.38,6.98,10.48,7.32];
const green = [
// top lobe
9.42,10.4,9.5,10.3,9.48,10.48,9.55,10.45,9.58,10.28,9.62,10.62,9.68,10.38,9.7,10.55,9.72,10.2,9.78,10.42,9.8,10.68,9.82,10.55,9.85,10.3,9.9,10.72,9.92,10.45,9.95,10.6,9.98,10.18,10.0,10.35,10.02,10.5,10.05,10.78,10.1,10.62,10.12,10.28,10.15,10.42,10.18,10.7,10.22,10.15,10.25,10.52,10.3,10.38,10.32,10.25,10.22,10.35,10.36,10.42,10.08,10.15,9.95,10.02,9.88,10.15,
9.45,10.35,9.52,10.38,9.6,10.4,9.66,10.5,9.72,10.45,9.75,10.6,9.86,10.48,9.9,10.58,9.96,10.42,10.02,10.62,10.06,10.4,10.08,10.5,10.12,10.72,10.18,10.5,10.22,10.28,10.28,10.45,10.16,10.22,10.06,10.25,9.92,10.25,9.8,10.22,9.75,10.32,
// shoulder
9.78,9.92,9.82,9.8,9.85,9.62,9.9,9.85,9.95,9.72,9.92,9.55,9.98,9.42,10.02,9.68,10.05,9.88,10.1,9.5,10.12,9.72,10.18,9.9,10.2,9.6,10.25,9.42,10.28,9.75,10.3,9.58,10.35,9.35,10.38,9.62,10.42,9.5,10.45,9.3,10.5,9.45,10.48,9.15,10.55,9.28,10.6,9.1,
9.88,9.78,9.96,9.62,10.0,9.82,10.06,9.6,10.04,9.45,10.1,9.8,10.15,9.62,10.24,9.52,10.3,9.45,10.34,9.68,10.42,9.4,10.48,9.28,10.52,9.2,
9.92,9.3,9.9,9.12,9.98,9.05,10.02,9.22,10.08,9.0,10.12,9.32,10.15,9.12,10.22,9.28,10.25,9.02,10.3,9.18,10.35,9.0,10.42,8.95,10.5,8.9,10.58,8.85,
9.96,9.18,10.06,9.12,10.18,9.2,10.28,9.08,10.38,9.12,10.46,9.02,10.54,8.98,
9.9,8.85,9.95,8.7,9.92,8.5,10.0,8.62,10.05,8.82,10.08,8.45,10.12,8.7,10.18,8.55,10.2,8.82,10.25,8.38,10.3,8.7,10.35,8.5,10.38,8.78,10.42,8.28,10.45,8.6,10.5,8.42,10.55,8.15,10.58,8.55,10.62,8.35,10.68,8.42,10.72,8.2,
9.96,8.6,10.04,8.55,10.1,8.6,10.15,8.42,10.24,8.6,10.3,8.48,10.4,8.62,10.44,8.42,10.52,8.55,10.58,8.3,10.5,8.22,10.66,8.28,
9.92,8.25,10.0,8.15,10.05,8.28,10.12,8.08,10.2,8.22,10.28,8.1,10.35,8.2,10.3,7.95,10.38,7.85,10.42,8.02,10.48,7.72,10.52,7.95,10.58,7.8,10.65,8.05,10.68,7.85,10.72,7.65,10.78,8.0,10.82,7.8,10.85,7.55,10.9,7.72,10.95,7.5,10.98,7.35,10.6,7.55,10.66,7.35,10.72,7.45,10.8,7.3,10.88,7.2,10.56,7.25,10.62,7.1,10.7,7.15,10.78,7.05,10.85,7.0,10.92,7.1,10.98,6.95,11.02,7.1,11.05,6.85,
10.4,7.95,10.45,7.88,10.55,7.7,10.62,7.95,10.62,7.7,10.72,7.82,10.76,7.55,10.8,7.65,10.88,7.42,10.92,7.3,10.7,7.25,10.76,7.2,10.84,7.12,10.62,7.45,10.66,7.0,10.58,6.95,10.5,7.4,
// main body
10.08,6.72,10.02,6.6,9.95,6.48,10.12,6.5,10.2,6.68,10.25,6.85,10.28,6.55,10.35,6.72,10.38,6.5,10.42,6.85,10.48,6.62,10.55,6.8,10.58,6.55,10.62,6.9,10.68,6.7,10.72,6.5,10.78,6.82,10.82,6.62,10.85,6.42,10.9,6.78,10.95,6.55,11.0,6.72,11.02,6.42,11.06,6.6,11.08,6.25,11.1,6.05,11.05,6.15,
10.05,6.75,10.16,6.62,10.22,6.55,10.3,6.72,10.32,6.6,10.44,6.7,10.5,6.52,10.56,6.68,10.64,6.6,10.74,6.65,10.8,6.72,10.88,6.55,10.92,6.65,10.98,6.48,11.04,6.3,10.96,6.82,10.86,6.9,10.74,6.92,10.68,6.85,10.48,6.78,10.36,6.85,
9.92,6.3,10.0,6.2,10.05,6.38,10.08,6.05,10.15,6.25,10.2,6.42,10.22,6.0,10.28,6.22,10.35,6.3,10.38,6.02,10.42,6.2,10.5,6.35,10.52,6.05,10.58,6.2,10.65,6.35,10.68,6.05,10.72,6.22,10.8,6.28,10.82,6.02,10.88,6.18,10.95,6.3,10.98,6.0,
9.98,6.3,10.1,6.18,10.14,6.08,10.2,6.12,10.3,6.42,10.34,6.14,10.4,6.3,10.46,6.08,10.54,6.22,10.6,6.05,10.66,6.22,10.74,6.12,10.78,6.36,10.85,6.25,10.92,6.1,11.0,6.2,
9.8,5.72,9.85,5.55,9.92,5.82,9.95,5.65,10.0,5.48,10.02,5.92,10.08,5.7,10.12,5.52,10.15,5.85,10.2,5.62,10.25,5.82,10.28,5.45,10.32,5.7,10.38,5.88,10.42,5.55,10.45,5.75,10.52,5.88,10.55,5.6,10.6,5.45,10.62,5.78,10.68,5.62,10.72,5.85,10.78,5.7,10.82,5.5,10.88,5.8,10.92,5.62,10.98,5.85,11.02,5.68,11.05,5.45,11.08,5.72,
9.88,5.7,9.98,5.72,10.05,5.58,10.12,5.75,10.18,5.48,10.24,5.55,10.3,5.9,10.35,5.6,10.4,5.75,10.48,5.6,10.5,5.48,10.58,5.72,10.66,5.5,10.74,5.55,10.82,5.68,10.9,5.52,10.96,5.7,11.02,5.52,
9.5,5.3,9.55,5.18,9.62,5.28,9.68,5.12,9.72,5.35,9.78,5.18,9.82,5.38,9.88,5.1,9.92,5.28,9.98,5.02,10.02,5.3,10.08,5.12,10.12,5.35,10.18,5.02,10.22,5.25,10.28,5.12,10.32,5.38,10.38,5.05,10.42,5.28,10.48,5.12,10.52,5.38,10.58,5.08,10.62,5.25,10.68,5.4,10.72,5.1,10.78,5.28,10.82,5.05,10.88,5.3,10.92,5.12,10.98,5.28,11.02,5.12,11.06,5.22,
9.58,5.25,9.66,5.22,9.75,5.25,9.85,5.2,9.95,5.15,10.04,5.2,10.15,5.18,10.25,5.38,10.35,5.2,10.44,5.4,10.55,5.2,10.65,5.12,10.75,5.4,10.85,5.18,10.94,5.38,
9.72,4.95,9.78,4.78,9.85,4.9,9.9,4.72,9.95,4.88,10.02,4.75,10.08,4.92,10.12,4.72,10.18,4.85,10.22,4.7,10.28,4.92,10.32,4.75,10.38,4.88,10.42,4.7,10.5,4.92,10.55,4.78,10.6,4.95,10.65,4.8,10.72,4.92,10.78,4.85,10.85,4.98,10.92,4.95,
9.75,4.88,9.82,4.72,9.88,4.82,9.98,4.82,10.05,4.85,10.14,4.82,10.2,4.78,10.25,4.82,10.35,4.82,10.45,4.82,10.52,4.85,10.62,4.85,10.7,4.78,10.82,4.9,
9.65,4.42,9.62,4.3,9.7,4.55,9.75,4.32,9.82,4.5,9.85,4.25,9.92,4.4,9.98,4.55,10.02,4.22,10.08,4.38,10.12,4.58,10.18,4.25,10.22,4.42,10.28,4.18,10.32,4.52,10.38,4.3,10.42,4.45,10.48,4.28,10.52,4.5,10.58,4.6,10.62,4.45,10.68,4.62,9.9,4.15,9.98,4.12,10.12,4.12,10.22,4.1,10.35,4.18,
9.7,4.4,9.8,4.38,9.88,4.48,9.95,4.3,10.04,4.42,10.1,4.28,10.16,4.45,10.25,4.32,10.3,4.38,10.36,4.5,10.44,4.3,10.5,4.4,10.56,4.48,10.06,4.62,10.2,4.6,10.28,4.62,10.4,4.6,10.02,4.65,9.92,4.62,10.12,4.18
];

function xy(list) {
  let pts = [];
  for (let i = 0; i < list.length; i += 2) pts.push({ x: list[i], y: list[i + 1] });
  return pts;
}

// first one in the list ends up on top
const clusters = [
  [darkOlive, 'rgba(38,58,28,0.85)'], [brown, 'rgba(150,80,0,0.8)'], [lilac, 'rgba(212,172,236,0.8)'],
  [mauve, 'rgba(170,85,125,0.8)'], [magenta, 'rgba(255,15,232,0.8)'], [lightGreen, 'rgba(80,212,105,0.8)'],
  [paleLilac, 'rgba(230,200,248,0.8)'], [tan, 'rgba(160,118,35,0.8)'], [forest, 'rgba(22,135,28,0.82)'],
  [lime, 'rgba(200,220,55,0.8)'], [sage, 'rgba(125,155,80,0.8)'], [peach, 'rgba(226,148,105,0.8)'],
  [crimson, 'rgba(180,18,75,0.8)'], [orangeRed, 'rgba(230,82,28,0.82)'], [navy, 'rgba(8,6,88,0.82)'],
  [dustyPink, 'rgba(216,174,186,0.8)'], [teal, 'rgba(100,178,164,0.8)'], [cyan, 'rgba(12,198,190,0.82)'],
  [seafoam, 'rgba(104,208,156,0.8)'], [pinkRed, 'rgba(218,52,114,0.82)'], [violet, 'rgba(100,56,240,0.8)'],
  [cyan2, 'rgba(30,190,212,0.8)'], [navy2, 'rgba(22,42,80,0.82)'], [orange, 'rgba(250,134,76,0.82)'],
  [palePink, 'rgba(230,208,216,0.82)'], [blue, 'rgba(14,42,232,0.82)'], [hotPink, 'rgba(230,58,140,0.82)'],
  [rose, 'rgba(222,76,140,0.8)'], [navy3, 'rgba(18,38,72,0.82)'], [mauveGrey, 'rgba(156,112,128,0.8)'],
  [indigo, 'rgba(12,10,84,0.82)'], [gold, 'rgba(226,172,40,0.82)'], [lightGrey, 'rgba(218,218,218,0.85)'],
  [amber, 'rgba(212,150,24,0.82)'], [green, 'rgba(88,192,40,0.8)'], [unassigned, 'rgba(118,118,118,0.72)']
];

const frame = {
  id: 'frame',
  afterDraw(chart) {
    const a = chart.chartArea, c = chart.ctx;
    c.save();
    c.strokeStyle = '#000';
    c.lineWidth = 1;
    c.strokeRect(a.left + 0.5, a.top + 0.5, a.right - a.left, a.bottom - a.top);
    c.restore();
  }
};

const tickFont = { family: 'DejaVu Sans', size: 13.9 };

new Chart(document.getElementById('scatter'), {
  type: 'scatter',
  data: {
    datasets: clusters.map(c => ({
      data: xy(c[0]),
      backgroundColor: c[1],
      borderWidth: 0,
      pointRadius: 3.9,
      pointHoverRadius: 3.9
    }))
  },
  options: {
    responsive: false,
    animation: false,
    layout: { padding: { top: 120, right: 100 } },
    plugins: { legend: { display: false }, tooltip: { enabled: false } },
    scales: {
      x: {
        type: 'linear', min: 4.204, max: 11.459,
        afterFit: s => { s.height = 110; },
        afterBuildTicks: s => { s.ticks = xTicks.map(v => ({ value: v })); },
        border: { display: false },
        grid: { drawOnChartArea: false, tickLength: 4, tickColor: '#000', tickWidth: 1 },
        ticks: { color: '#000', font: tickFont, maxRotation: 0, padding: 3 }
      },
      y: {
        type: 'linear', min: 3.344, max: 15.807,
        afterFit: s => { s.width = 125; },
        afterBuildTicks: s => { s.ticks = yTicks.map(v => ({ value: v })); },
        border: { display: false },
        grid: { drawOnChartArea: false, tickLength: 4, tickColor: '#000', tickWidth: 1 },
        ticks: { color: '#000', font: tickFont, padding: 4 }
      }
    }
  },
  plugins: [frame]
});
</script>
</body>
</html>
